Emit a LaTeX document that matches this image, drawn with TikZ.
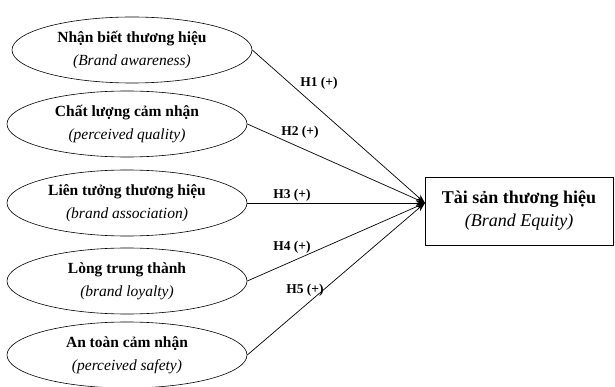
\documentclass[tikz,border=0pt]{standalone}
\usepackage{fontspec}
\setmainfont{Liberation Serif}
\usetikzlibrary{arrows.meta, shapes.geometric}

\begin{document}
\begin{tikzpicture}[x=1pt, y=-1pt,
    factor/.style={draw, ellipse, line width=0.6pt, minimum width=240pt, minimum height=66pt, inner sep=0pt, align=center, font=\fontsize{15.5}{23}\selectfont},
    equitybox/.style={draw, rectangle, line width=0.6pt, minimum width=188pt, minimum height=68pt, align=center, font=\fontsize{18}{23}\selectfont},
    link/.style={-{Stealth[length=9pt, width=6pt]}, line width=0.7pt},
    hyp/.style={font=\bfseries\fontsize{13.5}{16}\selectfont}]
    \useasboundingbox (0,0) rectangle (615,387);
    % Components of brand equity
    \node[factor] (aware) at (132,50) {\textbf{Nhận biết thương hiệu}\\\textit{(Brand awareness)}};
    \node[factor] (quality) at (127,124) {\textbf{Chất lượng cảm nhận}\\\textit{(perceived quality)}};
    \node[factor] (assoc) at (127,203) {\textbf{Liên tưởng thương hiệu}\\\textit{(brand association)}};
    \node[factor] (loyal) at (127,281) {\textbf{Lòng trung thành}\\\textit{(brand loyalty)}};
    \node[factor] (safety) at (127,355) {\textbf{An toàn cảm nhận}\\\textit{(perceived safety)}};
    % Brand equity
    \node[equitybox] (equity) at (519,211) {\textbf{Tài sản thương hiệu}\\\textit{(Brand Equity)}};
    \coordinate (tip) at (425,203);
    % Hypotheses
    \draw[link] (aware.east) -- (tip);
    \draw[link] (quality.east) -- (tip);
    \draw[link] (assoc.east) -- (tip);
    \draw[link] (loyal.east) -- (tip);
    \draw[link] (safety.east) -- (tip);
    \node[hyp] (h1) at (319,83) {H1 (+)};
    \node[hyp] (h2) at (300,132) {H2 (+)};
    \node[hyp] (h3) at (292,195) {H3 (+)};
    \node[hyp] (h4) at (292,247) {H4 (+)};
    \node[hyp] (h5) at (305,290) {H5 (+)};
\end{tikzpicture}
\end{document}
